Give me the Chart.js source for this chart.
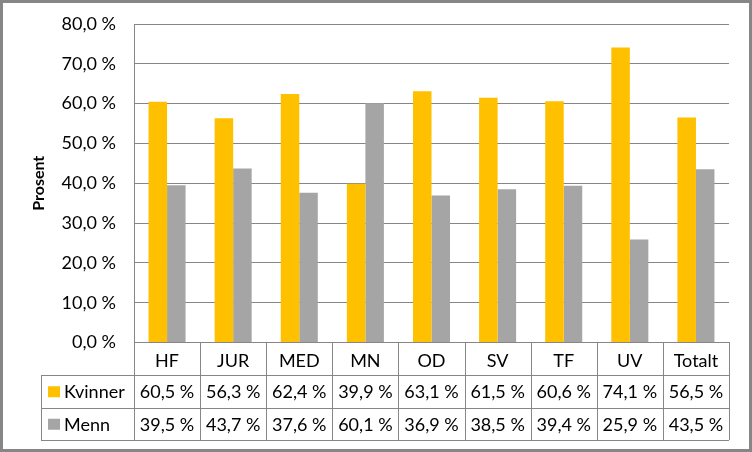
<!DOCTYPE html>
<html>
<head>
<meta charset="utf-8">
<script src="https://cdn.jsdelivr.net/npm/chart.js@4"></script>
<style>
  html, body { margin: 0; padding: 0; background: #fff; }
  #wrap { width: 752px; height: 452px; }
</style>
</head>
<body>
<div id="wrap"><canvas id="c" width="752" height="452"></canvas></div>
<script>
var categories = ['HF', 'JUR', 'MED', 'MN', 'OD', 'SV', 'TF', 'UV', 'Totalt'];
var kvinner = [60.5, 56.3, 62.4, 39.9, 63.1, 61.5, 60.6, 74.1, 56.5];
var menn = [39.5, 43.7, 37.6, 60.1, 36.9, 38.5, 39.4, 25.9, 43.5];
var seriesNames = ['Kvinner', 'Menn'];
var yTicks = [0, 10, 20, 30, 40, 50, 60, 70, 80];
var axisTitle = 'Prosent';

var FONT = 'Lato';
var LINE = '#868686';
var COLORS = ['#FFC000', '#A5A5A5'];

function pct(v) {
  return v.toFixed(1).replace('.', ',') + ' %';
}

var tablePlugin = {
  id: 'dataTable',
  afterDraw: function(chart) {
    var ctx = chart.ctx;
    var area = chart.chartArea;
    var x = chart.scales.x;
    var n = categories.length;
    var colW = (area.right - area.left) / n;
    var rowH = 32.5;
    var top = area.bottom;
    var legendLeft = 41;
    var rows = [kvinner, menn];

    ctx.save();
    ctx.strokeStyle = LINE;
    ctx.lineWidth = 1;
    ctx.beginPath();
    // horizontal lines
    for (var r = 1; r <= 3; r++) {
      var yy = Math.round(top + r * rowH) + 0.5;
      ctx.moveTo(legendLeft, yy);
      ctx.lineTo(area.right, yy);
    }
    // vertical lines
    for (var i = 0; i <= n; i++) {
      var xx = Math.round(area.left + i * colW) + 0.5;
      ctx.moveTo(xx, top);
      ctx.lineTo(xx, top + 3 * rowH);
    }
    ctx.moveTo(legendLeft + 0.5, top + rowH);
    ctx.lineTo(legendLeft + 0.5, top + 3 * rowH);
    ctx.stroke();

    // values + legend keys
    ctx.font = '18px ' + FONT;
    ctx.fillStyle = '#000';
    ctx.textBaseline = 'middle';
    for (var s = 0; s < rows.length; s++) {
      var cy = top + (s + 1.5) * rowH + 1;
      ctx.fillStyle = COLORS[s];
      ctx.fillRect(48, cy - 6, 12, 11);
      ctx.fillStyle = '#000';
      ctx.textAlign = 'left';
      ctx.fillText(seriesNames[s], 64, cy);
      ctx.textAlign = 'center';
      for (var j = 0; j < n; j++) {
        ctx.fillText(pct(rows[s][j]), x.getPixelForValue(j), cy);
      }
    }

    // axis title
    ctx.save();
    ctx.translate(39, (area.top + area.bottom) / 2);
    ctx.rotate(-Math.PI / 2);
    ctx.font = 'bold 16px ' + FONT;
    ctx.textAlign = 'center';
    ctx.textBaseline = 'middle';
    ctx.fillText(axisTitle, 0, 0);
    ctx.restore();

    // outer frame
    ctx.strokeStyle = '#868686';
    ctx.lineWidth = 3;
    ctx.strokeRect(1.5, 1.5, chart.width - 3, chart.height - 3);
    ctx.restore();
  }
};

new Chart(document.getElementById('c'), {
  type: 'bar',
  data: {
    labels: categories,
    datasets: [
      { label: seriesNames[0], data: kvinner, backgroundColor: COLORS[0] },
      { label: seriesNames[1], data: menn, backgroundColor: COLORS[1] }
    ]
  },
  options: {
    responsive: false,
    animation: false,
    layout: { padding: { top: 24, right: 23, bottom: 77, left: 0 } },
    plugins: {
      legend: { display: false },
      tooltip: { enabled: false }
    },
    datasets: {
      bar: { categoryPercentage: 0.56, barPercentage: 1.0 }
    },
    scales: {
      x: {
        grid: { display: false, drawTicks: false },
        border: { color: LINE, width: 1 },
        ticks: { color: '#000', font: { family: FONT, size: 18 }, padding: 8, maxRotation: 0 },
        afterFit: function(scale) { scale.height = 32.5; }
      },
      y: {
        min: 0,
        max: 80,
        afterBuildTicks: function(scale) {
          scale.ticks = yTicks.map(function(v) { return { value: v }; });
        },
        grid: { color: LINE, drawTicks: false },
        border: { color: LINE, width: 1 },
        ticks: {
          color: '#000',
          font: { family: FONT, size: 18 },
          padding: 18,
          callback: function(v) { return pct(v); }
        },
        afterFit: function(scale) {
          scale.width = 134;
          scale.paddingTop = 0;
          scale.paddingBottom = 0;
        }
      }
    }
  },
  plugins: [tablePlugin]
});
</script>
</body>
</html>
